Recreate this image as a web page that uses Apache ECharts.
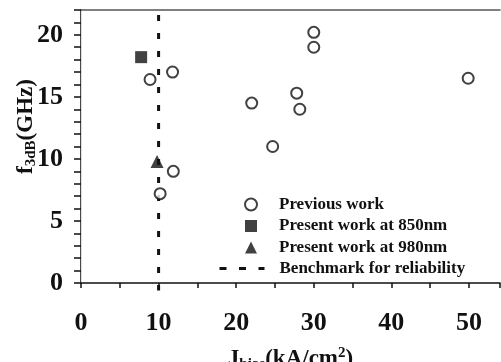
<!DOCTYPE html>
<html>
<head>
<meta charset="utf-8">
<script src="https://cdn.jsdelivr.net/npm/echarts@6/dist/echarts.min.js"></script>
<style>
  html, body { margin: 0; padding: 0; background: #fff; }
  #chart { width: 501px; height: 362px; }
</style>
</head>
<body>
<div id="chart"></div>
<script>
// previous work (open circles)
const prevX = [8.9, 11.8, 11.9, 10.2, 22.0, 24.7, 27.8, 28.2, 30.0, 30.0, 49.9]
const prevY = [16.4, 17.0, 9.0, 7.2, 14.5, 11.0, 15.3, 14.0, 20.2, 19.0, 16.5]
// present work
const at850 = [[7.75, 18.2]]
const at980 = [[9.8, 9.8]]
// benchmark for reliability, J = 10 kA/cm2
const benchX = 10
const benchY = [22, -0.6]
const xTicks = [0, 10, 20, 30, 40, 50]
const yTicks = [0, 5, 10, 15, 20]
const names = ['Previous work', 'Present work at 850nm', 'Present work at 980nm', 'Benchmark for reliability']

const font = 'Liberation Serif'
const ink = '#111'

const legendText = pad => ({
  fontFamily: font,
  fontWeight: 'bold',
  fontSize: 17,
  lineHeight: 17,
  color: ink,
  padding: [0, 0, 0, pad]
})

let chart = echarts.init(document.getElementById('chart'))
let option = {
  animation: false,
  grid: { left: 81, right: 1, top: 10, bottom: 79, outerBoundsMode: 'none', containLabel: false },
  legend: [{
    orient: 'vertical',
    left: 244,
    top: 196,
    padding: 0,
    itemWidth: 12,
    itemHeight: 12,
    itemGap: 4.5,
    data: names.slice(0, 3),
    textStyle: legendText(17)
  }, {
    orient: 'vertical',
    left: 218,
    top: 260,
    padding: 0,
    itemWidth: 45,
    itemHeight: 12,
    data: [{
      name: names[3],
      itemStyle: { opacity: 0 },
      lineStyle: { color: ink, width: 3, type: [7, 12.5], dashOffset: 0 }
    }],
    textStyle: legendText(10)
  }],
  xAxis: [{
    type: 'value',
    min: 0,
    max: 54,
    interval: 10,
    name: '{b|J}{s|bias}{b|(kA/cm}{p|2}{b|)}',
    nameLocation: 'middle',
    nameMoveOverlap: false,
    nameGap: 63,
    nameTextStyle: {
      rich: {
        b: { fontFamily: font, fontWeight: 'bold', fontSize: 23, color: ink, lineHeight: 26 },
        s: { fontFamily: font, fontWeight: 'bold', fontSize: 15, color: ink, verticalAlign: 'bottom' },
        p: { fontFamily: font, fontWeight: 'bold', fontSize: 15, color: ink, verticalAlign: 'top' }
      }
    },
    axisLine: { lineStyle: { color: ink, width: 1.5 } },
    axisTick: { inside: false, length: 5, lineStyle: { color: ink, width: 1.5 } },
    minorTick: { show: true, splitNumber: 2, length: 5, lineStyle: { color: ink, width: 1.5 } },
    splitLine: { show: false },
    axisLabel: {
      margin: 27,
      fontFamily: font,
      fontWeight: 'bold',
      fontSize: 26,
      color: ink,
      formatter: v => xTicks.indexOf(v) >= 0 ? String(v) : ''
    }
  }, {
    type: 'value',
    position: 'top',
    min: 0,
    max: 54,
    axisLine: { show: true, onZero: false, lineStyle: { color: '#555', width: 1.5 } },
    axisTick: { show: false },
    axisLabel: { show: false },
    splitLine: { show: false }
  }],
  yAxis: [{
    type: 'value',
    min: 0,
    max: 22,
    interval: 5,
    name: '{b|f}{s|3dB}{b|(GHz)}',
    nameLocation: 'middle',
    nameMoveOverlap: false,
    nameRotate: 90,
    nameGap: 42,
    nameTextStyle: {
      padding: [0, 0, 0, 40],
      rich: {
        b: { fontFamily: font, fontWeight: 'bold', fontSize: 23, color: ink, lineHeight: 26 },
        s: { fontFamily: font, fontWeight: 'bold', fontSize: 15, color: ink, verticalAlign: 'bottom' }
      }
    },
    axisLine: { show: true, lineStyle: { color: ink, width: 1.5 } },
    axisTick: { inside: false, length: 7, lineStyle: { color: ink, width: 1.5 } },
    minorTick: { show: true, splitNumber: 5, length: 7, lineStyle: { color: ink, width: 1.5 } },
    splitLine: { show: false },
    axisLabel: {
      margin: 18,
      fontFamily: font,
      fontWeight: 'bold',
      fontSize: 26,
      color: ink,
      formatter: v => yTicks.indexOf(v) >= 0 ? String(v) : ''
    }
  }, {
    type: 'value',
    position: 'right',
    min: 0,
    max: 22,
    axisLine: { show: true, lineStyle: { color: '#ddd', width: 1 } },
    axisTick: { show: false },
    axisLabel: { show: false },
    splitLine: { show: false }
  }],
  series: [
    {
      name: names[0],
      type: 'scatter',
      symbol: 'circle',
      symbolSize: 11,
      itemStyle: { color: '#fff', borderColor: ink, borderWidth: 2 },
      data: prevX.map((x, i) => [x, prevY[i]])
    },
    {
      name: names[1],
      type: 'scatter',
      symbol: 'rect',
      symbolSize: 12,
      itemStyle: { color: ink },
      data: at850
    },
    {
      name: names[2],
      type: 'scatter',
      symbol: 'triangle',
      symbolSize: 13,
      itemStyle: { color: ink },
      data: at980
    },
    {
      name: names[3],
      type: 'line',
      symbol: 'none',
      clip: false,
      z: 1,
      lineStyle: { color: ink, width: 3, type: [6, 12], dashOffset: 13 },
      itemStyle: { color: ink },
      data: benchY.map(y => [benchX, y])
    }
  ]
}
chart.setOption(option)
</script>
</body>
</html>
